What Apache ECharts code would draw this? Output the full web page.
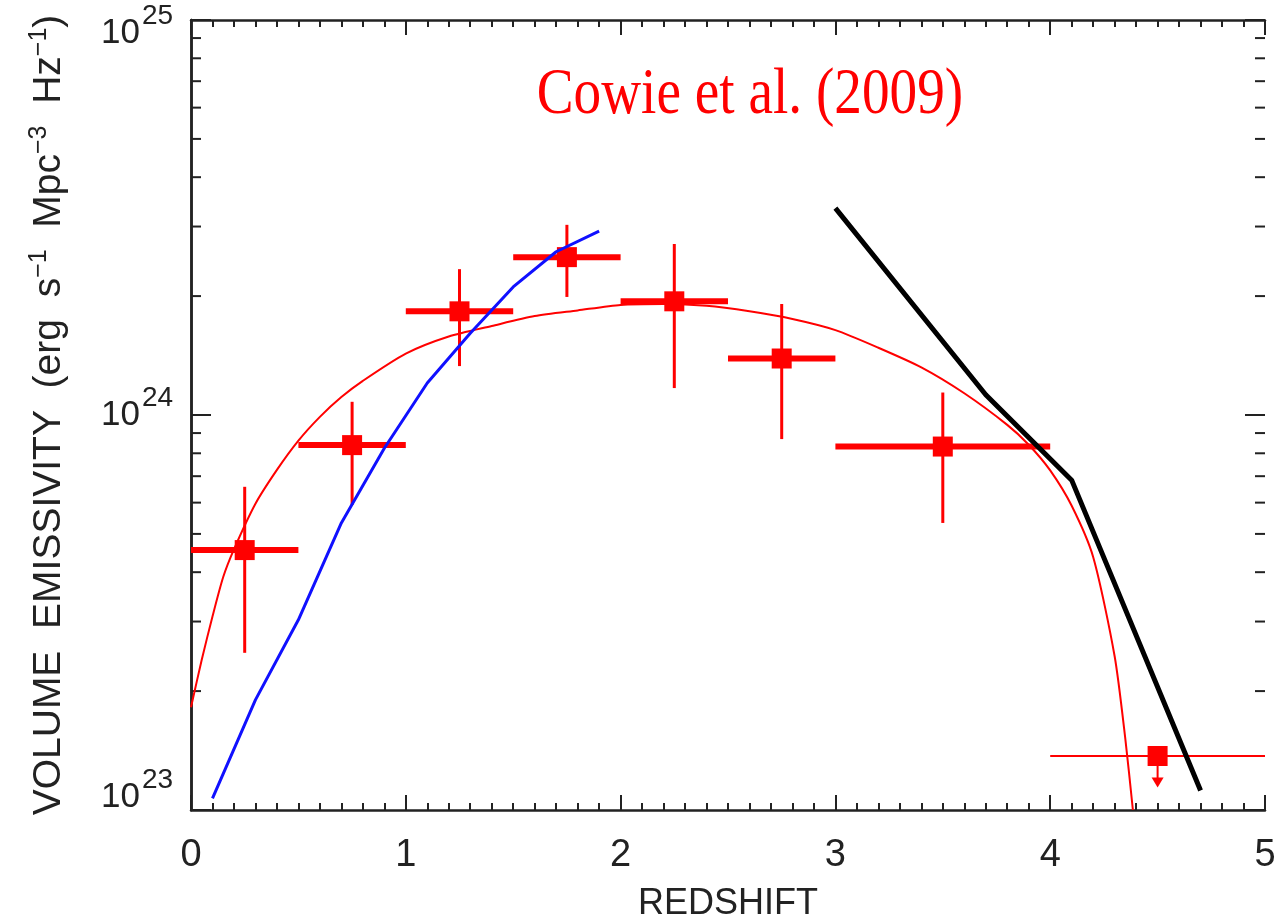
<!DOCTYPE html>
<html><head><meta charset="utf-8">
<script src="https://cdn.jsdelivr.net/npm/echarts@6/dist/echarts.min.js"></script>
<style>html,body{margin:0;padding:0;background:#fff}#c{width:1288px;height:922px}</style>
</head><body><div id="c"></div>
<script>
// ---- data ----
const xTicks = [0, 1, 2, 3, 4, 5];
const yDecades = [1e23, 1e24, 1e25];
const minorYTicks = [2e23,3e23,4e23,5e23,6e23,7e23,8e23,9e23,2e24,3e24,4e24,5e24,6e24,7e24,8e24,9e24];

const pointZ      = [0.25, 0.75, 1.25, 1.75, 2.25, 2.75, 3.5, 4.5];
const pointVal    = [4.55e23, 8.39e23, 1.83e24, 2.51e24, 1.94e24, 1.39e24, 8.32e23, 1.37e23];
const pointZLow   = [0.0, 0.5, 1.0, 1.5, 2.0, 2.5, 3.0, 4.0];
const pointZHigh  = [0.5, 1.0, 1.5, 2.0, 2.5, 3.0, 4.0, 5.0];
const pointValLow = [2.50e23, 5.92e23, 1.33e24, 1.99e24, 1.17e24, 8.69e23, 5.33e23, 1.14e23];
const pointValHigh= [6.58e23, 1.08e24, 2.34e24, 3.03e24, 2.71e24, 1.91e24, 1.14e24, 1.37e23];
const pointUpperLimit = [0, 0, 0, 0, 0, 0, 0, 1];

const fitZ   = [0.0, 0.05, 0.1, 0.15, 0.2, 0.3, 0.4, 0.5, 0.6, 0.7, 0.8, 1.0, 1.2, 1.4, 1.6, 1.8, 2.0, 2.2, 2.4, 2.6, 2.8, 3.0, 3.2, 3.4, 3.6, 3.8, 3.9, 4.0, 4.1, 4.2, 4.3, 4.35, 4.385];
const fitVal = [1.82e23, 2.40e23, 3.09e23, 3.89e23, 4.57e23, 5.96e23, 7.26e23, 8.61e23, 9.89e23, 1.11e24, 1.22e24, 1.43e24, 1.58e24, 1.68e24, 1.78e24, 1.84e24, 1.90e24, 1.91e24, 1.89e24, 1.83e24, 1.75e24, 1.64e24, 1.48e24, 1.32e24, 1.135e24, 9.44e23, 8.41e23, 7.24e23, 5.89e23, 4.37e23, 2.45e23, 1.51e23, 1.0e23];

const blueZ   = [0.1, 0.3, 0.5, 0.7, 0.9, 1.1, 1.3, 1.5, 1.7, 1.9];
const blueVal = [1.07e23, 1.90e23, 3.03e23, 5.33e23, 8.24e23, 1.205e24, 1.61e24, 2.11e24, 2.59e24, 2.92e24];

const blackZ   = [3.0, 3.7, 4.1, 4.7];
const blackVal = [3.34e24, 1.125e24, 6.84e23, 1.12e23];

const titleText = 'Cowie et al. (2009)';
const xName = 'REDSHIFT';
const yNameRich = 'VOLUME  EMISSIVITY  (erg  s{sup|−1}  Mpc{sup|−3}  Hz{sup|−1})';

// ---- chart ----
const AX = '#222';
const FONT = '"Liberation Sans", Arial, sans-serif';
const chart = echarts.init(document.getElementById('c'), null, {renderer: 'canvas'});

const errData = pointZ.map((z, i) => [z, pointVal[i], pointZLow[i], pointZHigh[i], pointValLow[i], pointValHigh[i], pointUpperLimit[i]]);
const zip = (a, b) => a.map((v, i) => [v, b[i]]);
const X0 = xTicks[0], X1 = xTicks[xTicks.length - 1];

function tickRenderer(len) {
  return (params, api) => {
    const v = api.value(1);
    const p = api.coord([X0, v]);
    const q = api.coord([X1, v]);
    return {type: 'group', children: [
      {type: 'line', shape: {x1: p[0], y1: p[1], x2: p[0] + len, y2: p[1]}, style: {stroke: AX, lineWidth: 2}},
      {type: 'line', shape: {x1: q[0] - len, y1: q[1], x2: q[0], y2: q[1]}, style: {stroke: AX, lineWidth: 2}}
    ]};
  };
}

const xAxisCommon = {
  type: 'value', min: X0, max: X1, interval: 1,
  axisLine: {show: true, lineStyle: {color: AX, width: 2.5}},
  axisTick: {show: true, inside: true, length: 15, lineStyle: {color: AX, width: 2}},
  minorTick: {show: true, splitNumber: 10, length: 7, lineStyle: {color: AX, width: 2}},
  splitLine: {show: false}, minorSplitLine: {show: false}
};
const yAxisCommon = {
  type: 'log', logBase: 10, min: yDecades[0], max: yDecades[yDecades.length - 1],
  axisLine: {show: true, lineStyle: {color: AX, width: 2.5}},
  axisTick: {show: false},
  axisLabel: {show: false},
  splitLine: {show: false}
};

const option = {
  backgroundColor: '#fff',
  animation: false,
  grid: {left: 191, right: 23, top: 20, bottom: 112, containLabel: false, outerBoundsMode: 'none'},
  xAxis: [
    Object.assign({}, xAxisCommon, {
      position: 'bottom',
      name: xName, nameLocation: 'middle', nameGap: 76,
      nameTextStyle: {fontFamily: FONT, fontSize: 36, color: AX},
      axisLabel: {show: true, margin: 27, fontFamily: FONT, fontSize: 38, color: AX, formatter: v => String(v)}
    }),
    Object.assign({}, xAxisCommon, {position: 'top', axisLabel: {show: false}})
  ],
  yAxis: [
    Object.assign({}, yAxisCommon, {
      position: 'left',
      name: yNameRich, nameLocation: 'middle', nameGap: 120, nameRotate: 90,
      nameTextStyle: {fontFamily: FONT, fontSize: 39, color: AX, lineHeight: 44,
        rich: {sup: {fontFamily: FONT, fontSize: 25, color: AX, verticalAlign: 'top', lineHeight: 24}}}
    }),
    Object.assign({}, yAxisCommon, {position: 'right'})
  ],
  graphic: [{
    type: 'text', x: 750, y: 96, z: 100, scaleX: 0.85,
    style: {text: titleText, font: '65px "Liberation Serif", "Times New Roman", serif', fill: '#ff0000',
      align: 'center', verticalAlign: 'middle', textAlign: 'center', textVerticalAlign: 'middle'}
  }],
  series: [
    {
      type: 'custom', name: 'y major ticks', silent: true, z: 1, clip: false,
      data: yDecades.map(v => [X0, v]), encode: {x: 0, y: 1},
      renderItem: tickRenderer(20)
    },
    {
      type: 'custom', name: 'y minor ticks', silent: true, z: 1, clip: false,
      data: minorYTicks.map(v => [X0, v]), encode: {x: 0, y: 1},
      renderItem: tickRenderer(10)
    },
    {
      type: 'custom', name: 'y tick labels', silent: true, z: 1, clip: false,
      data: yDecades.map(v => [X0, v]), encode: {x: 0, y: 1},
      renderItem: (params, api) => {
        const v = api.value(1);
        const p = api.coord([X0, v]);
        const n = yDecades.length;
        const dy = params.dataIndex === 0 ? -13 : (params.dataIndex === n - 1 ? 13 : 0);
        const e = Math.round(Math.log10(v));
        return {type: 'group', children: [
          {type: 'text', x: p[0] - 51, y: p[1] + dy,
            style: {text: '10', font: '35px "Liberation Sans", Arial, sans-serif', fill: AX, align: 'right', verticalAlign: 'middle'}},
          {type: 'text', x: p[0] - 49, y: p[1] + dy - 17,
            style: {text: String(e), font: '28px "Liberation Sans", Arial, sans-serif', fill: AX, align: 'left', verticalAlign: 'middle'}}
        ]};
      }
    },
    {
      type: 'line', name: 'fit', data: zip(fitZ, fitVal), showSymbol: false, symbol: 'none',
      smooth: 0.25, clip: true, z: 3,
      lineStyle: {color: '#ff0000', width: 2}
    },
    {
      type: 'custom', name: 'Cowie points', z: 4, clip: true,
      data: errData,
      encode: {x: [0, 2, 3], y: [1, 4, 5]},
      renderItem: (params, api) => {
        const z = api.value(0), v = api.value(1), zl = api.value(2), zh = api.value(3);
        const vl = api.value(4), vh = api.value(5), lim = api.value(6);
        const c = api.coord([z, v]);
        const pl = api.coord([zl, v]), pr = api.coord([zh, v]);
        const pb = api.coord([z, vl]), pt = api.coord([z, vh]);
        const red = '#ff0000';
        const ch = [];
        ch.push({type: 'line', shape: {x1: pl[0], y1: c[1], x2: pr[0], y2: c[1]}, style: {stroke: red, lineWidth: lim ? 2 : 6}});
        if (!lim) {
          ch.push({type: 'line', shape: {x1: c[0], y1: pt[1], x2: c[0], y2: pb[1]}, style: {stroke: red, lineWidth: 3}});
        } else {
          ch.push({type: 'line', shape: {x1: c[0], y1: c[1], x2: c[0], y2: pb[1] - 8}, style: {stroke: red, lineWidth: 2}});
          ch.push({type: 'polygon', shape: {points: [[c[0] - 6, pb[1] - 10], [c[0] + 6, pb[1] - 10], [c[0], pb[1]]]}, style: {fill: red}});
        }
        ch.push({type: 'rect', shape: {x: c[0] - 10, y: c[1] - 10, width: 20, height: 20}, style: {fill: red}});
        return {type: 'group', children: ch};
      }
    },
    {
      type: 'line', name: 'blue', data: zip(blueZ, blueVal), showSymbol: false, symbol: 'none', z: 5,
      lineStyle: {color: '#1010ff', width: 3}
    },
    {
      type: 'line', name: 'black', data: zip(blackZ, blackVal), showSymbol: false, symbol: 'none', z: 6,
      lineStyle: {color: '#000', width: 5}
    }
  ]
};
chart.setOption(option);
</script>
</body></html>
